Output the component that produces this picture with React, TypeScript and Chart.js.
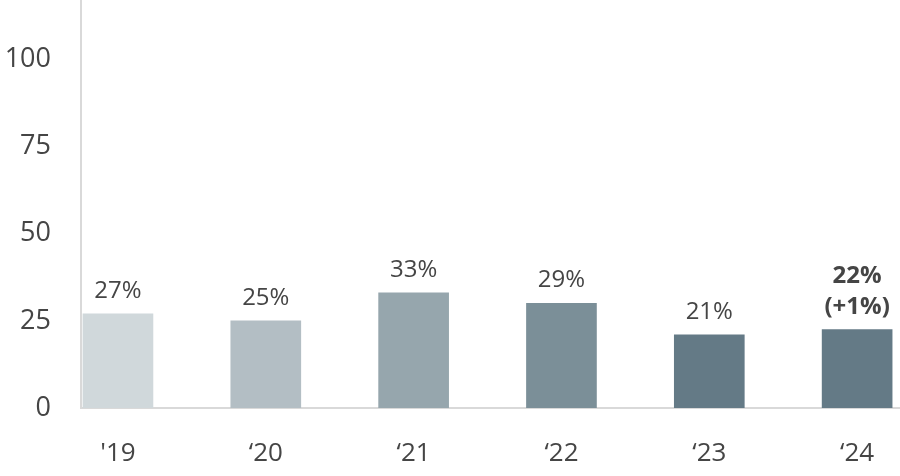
import React, { useEffect, useRef } from "react";
import { Chart, registerables } from "chart.js";

Chart.register(...registerables);

const categories = ["'19", "\u201820", "\u201821", "\u201822", "\u201823", "\u201824"];
const values = [27, 25, 33, 30, 21, 22.5];
const valueLabels = ["27%", "25%", "33%", "29%", "21%", "22%"];
const extraLabel = "(+1%)";
const barColors = ["#d0d8db", "#b3bec4", "#96a6ad", "#7b8f98", "#647a86", "#647a86"];
const yTicks = [0, 25, 50, 75, 100];

const FONT = "'Open Sans', sans-serif";
const TEXT = "#454545";

const labelPlugin = {
  id: "valueLabels",
  afterDatasetsDraw(chart: any) {
    const ctx = chart.ctx;
    const meta = chart.getDatasetMeta(0);
    ctx.save();
    ctx.textAlign = "center";
    ctx.textBaseline = "alphabetic";
    meta.data.forEach((bar: any, i: number) => {
      const last = i === meta.data.length - 1;
      ctx.fillStyle = TEXT;
      if (last) {
        ctx.font = `bold 24px ${FONT}`;
        ctx.fillText(extraLabel, bar.x, bar.y - 16);
        ctx.fillText(valueLabels[i], bar.x, bar.y - 47);
      } else {
        ctx.font = `24px ${FONT}`;
        ctx.fillText(valueLabels[i], bar.x, bar.y - 16);
      }
    });
    ctx.restore();
  },
};

export default function App() {
  const ref = useRef<HTMLCanvasElement>(null);
  useEffect(() => {
    document.body.style.margin = "0";
    const chart = new Chart(ref.current!, {
      type: "bar",
      data: {
        datasets: [
          {
            data: values.map((v, i) => ({ x: i, y: v })),
            backgroundColor: barColors,
            barThickness: 70,
          },
        ],
      },
      options: {
        animation: false,
        responsive: false,
        maintainAspectRatio: false,
        layout: { padding: 0 },
        plugins: { legend: { display: false }, tooltip: { enabled: false } },
        scales: {
          x: {
            type: "linear",
            offset: false,
            min: -0.25,
            max: 5.29,
            grid: { display: false, drawTicks: false },
            border: { display: true, color: "#d9d9d9", width: 2 },
            afterBuildTicks: (scale: any) => {
              scale.ticks = categories.map((_, i) => ({ value: i }));
            },
            afterFit: (scale: any) => {
              scale.height = 68;
              scale.paddingLeft = 0;
              scale.paddingRight = 0;
            },
            ticks: {
              autoSkip: false,
              maxRotation: 0,
              padding: 30,
              color: TEXT,
              font: { family: FONT, size: 26 },
              callback: (v: any) => categories[Number(v)] ?? "",
            },
          },
          y: {
            min: 0,
            max: 117,
            grid: { display: false, drawTicks: false },
            border: { display: true, color: "#d9d9d9", width: 2 },
            afterBuildTicks: (scale: any) => {
              scale.ticks = yTicks.map((v) => ({ value: v }));
            },
            afterFit: (scale: any) => {
              scale.width = 81;
              scale.paddingTop = 0;
              scale.paddingBottom = 0;
            },
            ticks: {
              padding: 30,
              color: TEXT,
              font: { family: FONT, size: 27 },
            },
          },
        },
      },
      plugins: [labelPlugin],
    });
    return () => chart.destroy();
  }, []);
  return (
    <div style={{ position: "absolute", left: 0, top: 0, width: 900, height: 476 }}>
      <canvas ref={ref} width={900} height={476} style={{ width: 900, height: 476 }} />
    </div>
  );
}
